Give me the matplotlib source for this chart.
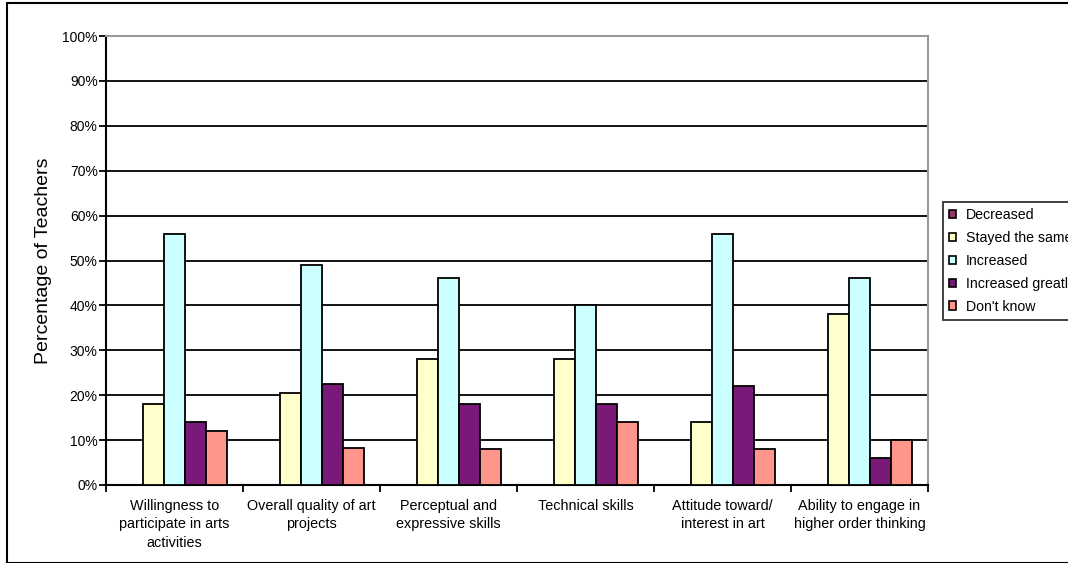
import matplotlib
matplotlib.use("Agg")
import matplotlib.pyplot as plt
from matplotlib.patches import Patch, Rectangle
import numpy as np

plt.rcParams['font.family'] = ['Liberation Sans', 'DejaVu Sans']

categories = [
    "Willingness to\nparticipate in arts\nactivities",
    "Overall quality of art\nprojects",
    "Perceptual and\nexpressive skills",
    "Technical skills",
    "Attitude toward/\ninterest in art",
    "Ability to engage in\nhigher order thinking",
]
series_names = ["Decreased", "Stayed the same", "Increased", "Increased greatly", "Don't know"]
decreased = [0, 0, 0, 0, 0, 0]
stayed_same = [18, 20.4, 28, 28, 14, 38]
increased = [56, 49, 46, 40, 56, 46]
increased_greatly = [14, 22.4, 18, 18, 22, 6]
dont_know = [12, 8.2, 8, 14, 8, 10]
series_values = [decreased, stayed_same, increased, increased_greatly, dont_know]
colors = ["#993366", "#FFFFCC", "#CCFFFF", "#7A1A78", "#FF968C"]
yticks = [0, 10, 20, 30, 40, 50, 60, 70, 80, 90, 100]
ytick_labels = [f"{v}%" for v in yticks]

W, H = 1068, 563
fig = plt.figure(figsize=(W / 100, H / 100), dpi=100)
ax = fig.add_axes([106 / W, 1 - 485 / H, (928 - 106) / W, (485 - 36) / H])

n_series = len(series_values)
bar_w = 1 / 6.5
x = np.arange(len(categories))
for i, (vals, col, name) in enumerate(zip(series_values, colors, series_names)):
    offs = (i - (n_series - 1) / 2) * bar_w
    ax.bar(x + offs, vals, width=bar_w, color=col, edgecolor="black",
           linewidth=1.3, label=name, zorder=3)

ax.set_xlim(-0.5, len(categories) - 0.5)
ax.set_ylim(0, 100)
ax.set_yticks(yticks)
ax.set_yticklabels(ytick_labels, fontsize=10)
ax.yaxis.grid(True, color="black", linewidth=1.3, zorder=0)
ax.set_axisbelow(True)

ax.set_xticks(x)
ax.set_xticklabels(categories, fontsize=10.4, linespacing=1.4)
ax.tick_params(axis="x", length=0, pad=10)
ax.set_xticks(np.arange(len(categories) + 1) - 0.5, minor=True)
ax.tick_params(axis="x", which="minor", length=5, width=1.3, direction="out")
ax.tick_params(axis="y", length=5, width=1.3, direction="out", pad=1)

for side in ["top", "right"]:
    ax.spines[side].set_color("#999999")
    ax.spines[side].set_linewidth(1.5)
for side in ["left", "bottom"]:
    ax.spines[side].set_color("black")
    ax.spines[side].set_linewidth(1.5)

ax.set_ylabel("Percentage of Teachers", fontsize=14, labelpad=7)

handles = [Patch(facecolor=c, edgecolor="black", linewidth=1.2) for c in colors]
leg = fig.legend(handles, series_names, loc="upper left",
                 bbox_to_anchor=(943 / W, 1 - 202 / H), fontsize=10.2,
                 frameon=True, fancybox=False, edgecolor="black",
                 handlelength=0.5, handleheight=0.5, handletextpad=0.65,
                 labelspacing=0.62, borderpad=0.45, borderaxespad=0)
leg.get_frame().set_linewidth(1.3)

fig.patches.append(Rectangle((7 / W, 0), 2, 1 - 3 / H, transform=fig.transFigure,
                             fill=False, edgecolor="black", linewidth=1.5))

fig.savefig("out.png", dpi=100)
